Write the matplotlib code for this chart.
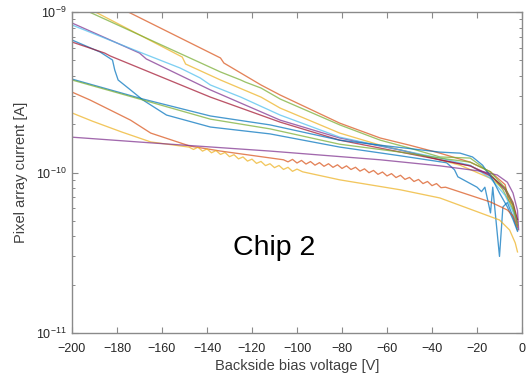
import matplotlib

matplotlib.use("Agg")
import matplotlib.pyplot as plt
from matplotlib.ticker import FixedLocator, LogLocator, MultipleLocator, NullFormatter

plt.rcParams["font.family"] = ["Liberation Sans", "DejaVu Sans"]

# MATLAB default colour order
BLUE = "#0072BD"
ORANGE = "#D95319"
YELLOW = "#EDB120"
PURPLE = "#7E2F8E"
GREEN = "#77AC30"
LIGHTBLUE = "#4DBEEE"
DARKRED = "#A2142F"

Y_TICKS = [1e-11, 1e-10, 1e-9]

# bias voltage [V] and pixel array current [1e-10 A], one pair per sweep
v_blue1 = [-200, -187.5, -182, -181, -179.5, -174, -168.5, -158, -138.5, -112, -81, -54,
           -33.5, -30, -28.5, -20, -18, -16.5, -14, -13, -10, -8.5, -6.5, -4, -2]
i_blue1 = [6.69, 5.63, 5.02, 4.35, 3.77, 3.27, 2.83, 2.28, 1.92, 1.74, 1.44, 1.27,
           1.15, 1.04, 0.94, 0.81, 0.76, 0.81, 0.56, 0.81, 0.30, 0.61, 0.65, 0.53, 0.44]

v_orange1 = [-200, -175, -134, -132.5, -116, -107.5, -81, -63, -50, -36.5, -23, -14, -7.5, -6, -4, -2]
i_orange1 = [14.9, 10.0, 5.17, 4.81, 3.51, 3.04, 2.03, 1.64, 1.48, 1.32, 1.16, 1.01, 0.84, 0.67, 0.63, 0.49]

v_yellow1 = [-200, -151, -149.5, -134, -116, -107.5, -81, -63, -45, -27.5, -14, -7.5, -4.5, -2]
i_yellow1 = [11.9, 5.24, 4.74, 3.77, 2.95, 2.52, 1.76, 1.48, 1.29, 1.11, 0.92, 0.78, 0.63, 0.44]

v_purple1 = [-200, -170, -167, -138.5, -107.5, -81, -54, -36.5, -23, -14, -7.5, -4, -2]
i_purple1 = [8.54, 5.55, 5.10, 3.27, 2.12, 1.64, 1.38, 1.20, 1.10, 0.965, 0.78, 0.63, 0.47]

v_green1 = [-200, -134, -125, -123, -116, -107.5, -81, -63, -50, -36.5, -23, -17.5, -13, -8.5, -4.5, -2]
i_green1 = [11.2, 4.23, 3.77, 3.66, 3.36, 2.87, 1.98, 1.59, 1.42, 1.25, 1.23, 1.08, 0.94, 0.78, 0.61, 0.51]

v_lightblue = [-200, -170, -152, -147.5, -143, -138.5, -125, -107.5, -81, -54, -36.5, -23, -14, -7.5, -4, -2]
i_lightblue = [8.30, 5.63, 4.48, 4.17, 3.88, 3.51, 2.95, 2.28, 1.66, 1.38, 1.23, 1.11, 0.92, 0.72, 0.57, 0.45]

v_darkred = [-200, -185.5, -183, -138.5, -107.5, -81, -54, -36.5, -23, -14, -7.5, -4, -2]
i_darkred = [6.50, 5.55, 5.32, 2.95, 2.06, 1.59, 1.34, 1.20, 1.10, 0.95, 0.80, 0.65, 0.51]

v_blue2 = [-200, -168.5, -138.5, -112, -81, -63, -36.5, -27.5, -22, -17.5, -13, -10, -6.5, -4, -2]
i_blue2 = [3.82, 2.87, 2.25, 1.98, 1.59, 1.48, 1.34, 1.32, 1.25, 1.11, 0.90, 0.745, 0.61, 0.51, 0.43]

v_orange2 = [-200, -192, -183, -174, -165, -147.5, -134,
             -106, -104, -102, -100, -98, -96, -94, -92, -90, -88, -86, -84, -82, -80,
             -78, -76, -74, -72, -70, -68, -66, -64, -62, -60, -58, -56, -54, -52,
             -50, -48, -46, -44, -42, -40, -38, -36, -34,
             -14, -6.5, -4, -2]
i_orange2 = [3.17, 2.83, 2.45, 2.12, 1.76, 1.46, 1.36,
             1.20, 1.165, 1.207, 1.146, 1.189, 1.129, 1.170, 1.111, 1.152, 1.093, 1.134, 1.077, 1.117, 1.060,
             1.100, 1.044, 1.078, 1.020, 1.054, 0.997, 1.030, 0.974, 1.007, 0.952, 0.984, 0.930, 0.961, 0.906,
             0.932, 0.879, 0.905, 0.853, 0.879, 0.828, 0.853, 0.804, 0.81,
             0.655, 0.584, 0.536, 0.457]

v_yellow2 = [-200, -191, -178, -165,
             -148, -146, -144, -142, -140, -138, -136, -134, -132, -130, -128, -126, -124,
             -122, -120, -118, -116, -114, -112, -110, -108, -106, -104, -102, -100,
             -97.5, -81, -54, -36.5, -22, -10, -5.5, -3, -2]
i_yellow2 = [2.35, 2.09, 1.79, 1.55,
             1.44, 1.392, 1.437, 1.359, 1.403, 1.327, 1.370, 1.296, 1.333, 1.255, 1.291, 1.216, 1.250,
             1.178, 1.211, 1.140, 1.172, 1.104, 1.134, 1.072, 1.106, 1.045, 1.077, 1.017, 1.050,
             1.01, 0.90, 0.78, 0.694, 0.584, 0.506, 0.438, 0.364, 0.320]

v_purple2 = [-200, -165, -112, -63, -36.5, -18.5, -11, -6.5, -4, -2, -1.5]
i_purple2 = [1.66, 1.53, 1.36, 1.20, 1.10, 1.02, 0.965, 0.87, 0.745, 0.58, 0.44]

v_green2 = [-200, -168.5, -138.5, -112, -81, -54, -36.5, -23, -14, -7.5, -4, -2]
i_green2 = [3.77, 2.83, 2.15, 1.87, 1.50, 1.34, 1.23, 1.16, 1.01, 0.80, 0.63, 0.47]

SWEEPS = [
    (v_blue1, i_blue1, BLUE),
    (v_orange1, i_orange1, ORANGE),
    (v_yellow1, i_yellow1, YELLOW),
    (v_purple1, i_purple1, PURPLE),
    (v_green1, i_green1, GREEN),
    (v_lightblue, i_lightblue, LIGHTBLUE),
    (v_darkred, i_darkred, DARKRED),
    (v_blue2, i_blue2, BLUE),
    (v_orange2, i_orange2, ORANGE),
    (v_yellow2, i_yellow2, YELLOW),
    (v_purple2, i_purple2, PURPLE),
    (v_green2, i_green2, GREEN),
]

fig = plt.figure(figsize=(5.31, 3.78), dpi=100)
ax = fig.add_axes([72 / 531, 45 / 378, 450 / 531, 321 / 378])

for v, i, color in SWEEPS:
    ax.plot(v, [x * 1e-10 for x in i], color=color, linewidth=0.95, alpha=0.72)

ax.set_yscale("log")
ax.set_xlim(-200, 0)
ax.set_ylim(1e-11, 1e-9)
ax.xaxis.set_major_locator(MultipleLocator(20))
ax.yaxis.set_major_locator(FixedLocator(Y_TICKS))
ax.yaxis.set_minor_locator(LogLocator(base=10, subs=range(2, 10)))
ax.yaxis.set_minor_formatter(NullFormatter())
ax.xaxis.offsetText.set_visible(False)
ax.yaxis.offsetText.set_visible(False)

axis_gray = "#8a8a8a"
for spine in ax.spines.values():
    spine.set_color(axis_gray)
    spine.set_linewidth(1.0)
ax.tick_params(which="both", direction="in", top=True, right=True,
               color=axis_gray, labelcolor="#262626", labelsize=9)
ax.tick_params(which="major", length=4.5, width=0.8)
ax.tick_params(which="minor", length=2.5, width=0.7)
ax.tick_params(axis="x", pad=7)
ax.tick_params(axis="y", pad=4)

ax.set_xlabel("Backside bias voltage [V]", fontsize=10.5, color="#404040", labelpad=3)
ax.set_ylabel("Pixel array current [A]", fontsize=10.5, color="#404040", labelpad=6)

ax.text(-110, 3.4e-11, "Chip 2", fontsize=20.5, ha="center", va="center", color="black")

fig.savefig("out.png", dpi=100)
